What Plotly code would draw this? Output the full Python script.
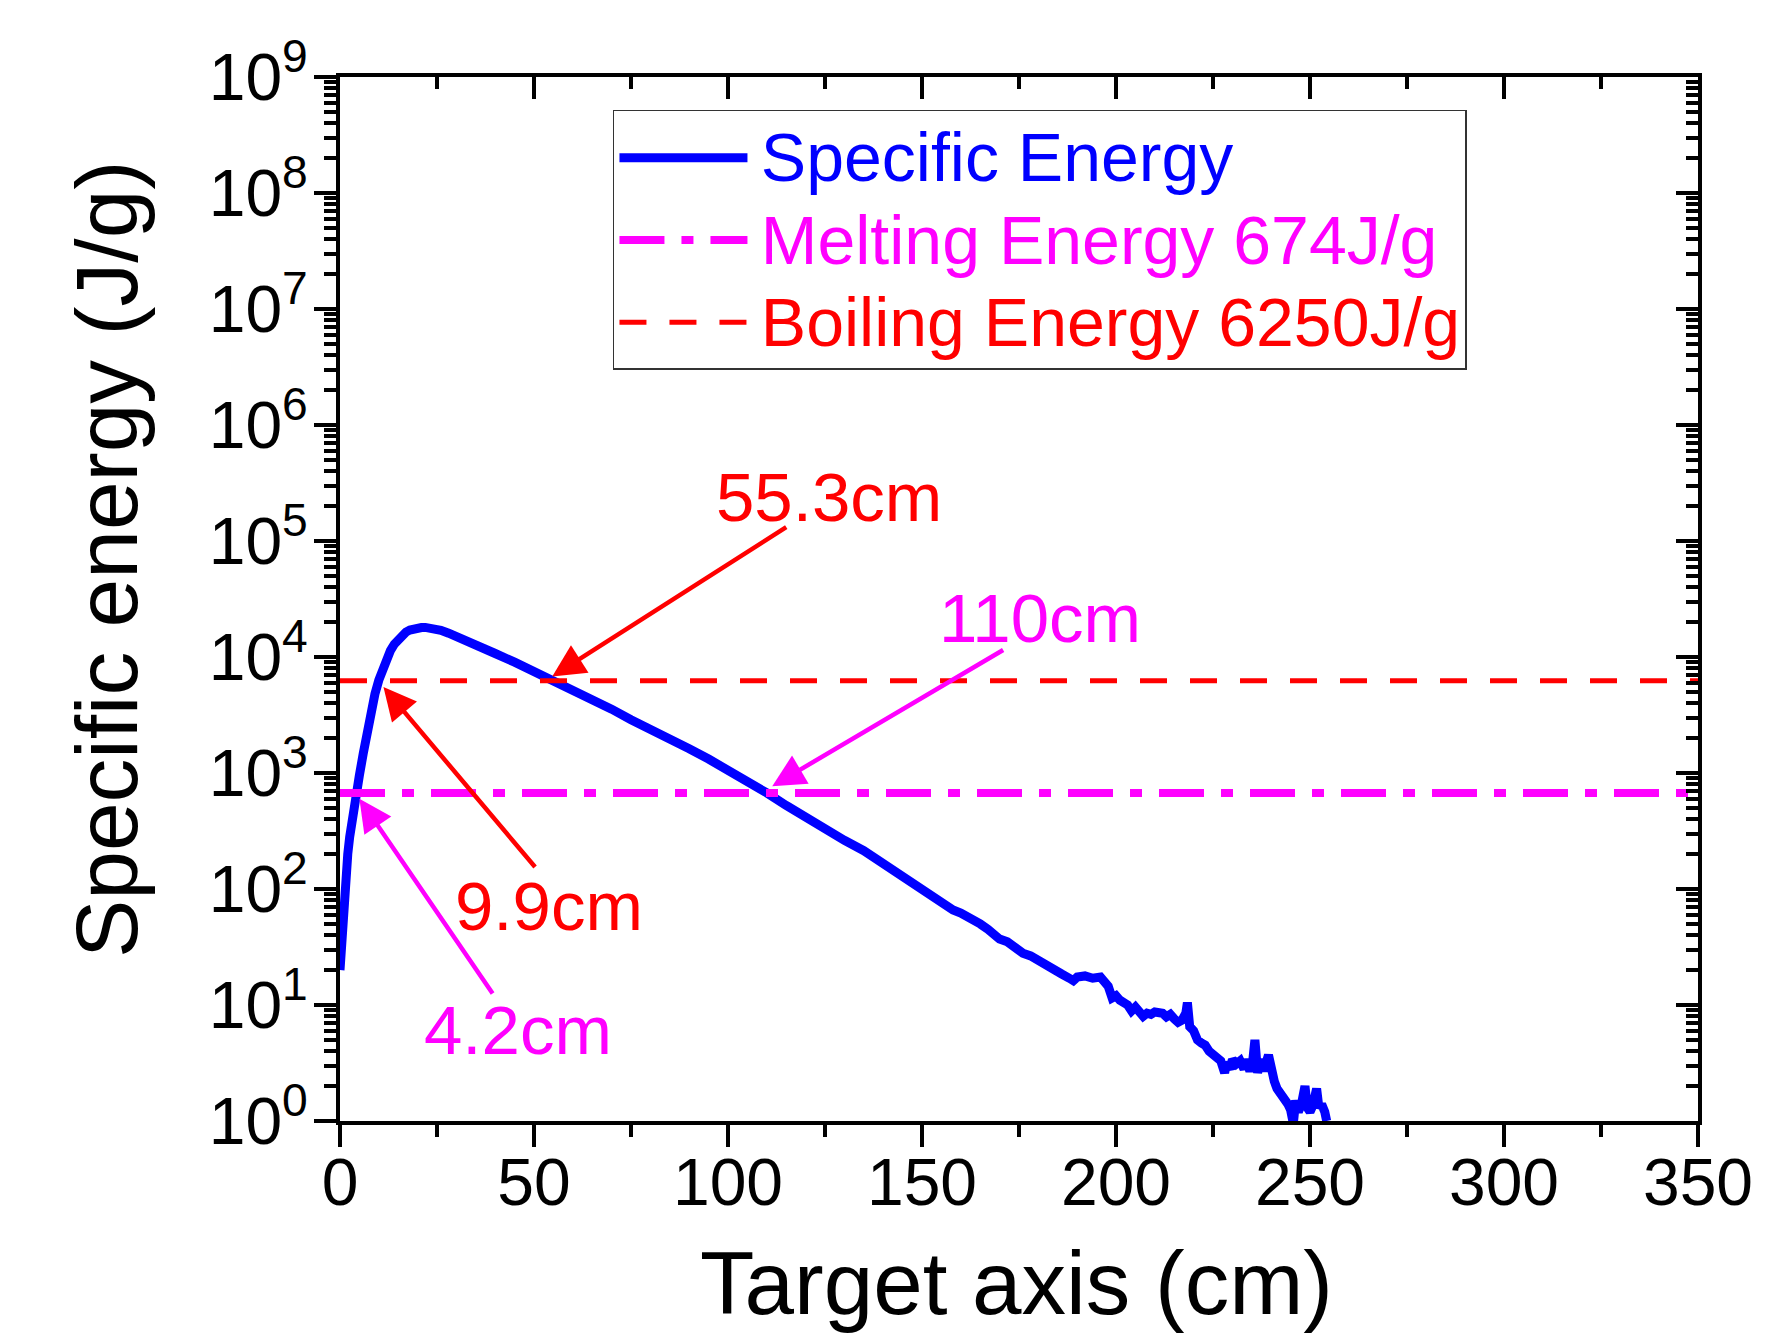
import plotly.graph_objects as go
import math

# ---------------- data ----------------
x_cm = [0, 0.5, 1, 1.5, 2, 2.5, 3, 3.5, 4.2, 5, 6, 7, 8, 9, 10, 11, 12, 13, 14, 15,
        16, 17, 18, 19, 20, 21, 22, 23, 24, 25, 26, 28, 30, 33, 36, 40, 45, 50, 55.3,
        60, 65, 70, 75, 80, 85, 90, 95, 100, 105, 110, 115, 120, 123, 125, 130, 135,
        140, 145, 150, 152, 154, 156, 158, 160, 162, 163, 165, 167, 169, 170, 172, 174,
        176, 178, 180, 182, 184, 185, 186, 188, 189, 190, 192, 194, 195.5, 196, 198,
        199, 200, 201, 203, 204, 205, 206, 207, 208, 209, 210, 212, 213, 214, 215, 216,
        217, 218, 218.4, 219, 220, 221, 222, 223, 224, 225, 226, 227, 228, 228.5, 229.5,
        230, 231, 232, 233, 233.5, 234.5, 235.2, 235.8, 236.5, 237.3, 238, 239.3, 240,
        240.8, 241.5, 242.5, 243.5, 244.3, 245, 245.7, 246.3, 247, 247.8, 248.7, 249.3,
        250, 250.7, 251.7, 252.3, 253, 253.8, 254.3]
energy = [20, 42, 79, 132, 200, 282, 380, 490, 674, 955, 1480, 2400, 3550, 4790, 6310,
          7940, 9660, 11350, 12880, 14290, 15490, 16410, 17060, 17500, 17780, 17950,
          17990, 17910, 17700, 17380, 16980, 16030, 15070, 13650, 12300, 10720, 9020,
          7530, 6250, 5250, 4370, 3550, 2880, 2400, 2000, 1620, 1320, 1070, 851, 674,
          525, 417, 345, 318, 263, 214, 166, 129, 100, 93, 80, 72, 66, 62, 58, 55, 50,
          45, 40, 37, 35, 31, 28, 26.5, 24.5, 22.5, 20.5, 19.5, 18.5, 17.0, 16.2, 17.4,
          17.8, 17.0, 17.8, 17.4, 14.5, 11.5, 12.0, 11.0, 10.0, 8.9, 9.6, 8.7, 8.0, 8.5,
          8.3, 8.7, 8.5, 7.9, 8.3, 7.6, 7.1, 7.4, 8.5, 10.5, 6.5, 6.0, 5.0, 4.7, 4.5,
          4.0, 3.8, 3.6, 3.3, 2.6, 3.2, 2.8, 3.4, 3.1, 3.3, 2.8, 3.4, 2.7, 3.2, 5.0,
          2.6, 3.4, 2.7, 3.7, 2.5, 2.2, 1.9, 1.7, 1.6, 1.4, 1.25, 0.95, 1.5, 1.2, 1.4,
          2.0, 1.3, 1.2, 1.35, 1.9, 1.3, 1.4, 1.2, 1.0]

melting_energy = 674
boiling_energy = 6250
x_line_span = [0, 350]

series_names = ["Specific Energy", "Melting Energy 674J/g", "Boiling Energy 6250J/g"]
series_colors = ["#0000FF", "#FF00FF", "#FF0000"]

x_ticks = [0, 50, 100, 150, 200, 250, 300, 350]
y_exponents = [0, 1, 2, 3, 4, 5, 6, 7, 8, 9]
y_tick_vals = [10 ** k for k in y_exponents]
y_tick_text = ["10<sup>%d</sup>" % k for k in y_exponents]
y_minor_vals = [m * 10 ** k for k in range(0, 9) for m in range(2, 10)]

# annotation labels: text, colour, arrow tip (x, y), arrow tail (x, y), label centre (x, y)
ann_text = ["55.3cm", "110cm", "9.9cm", "4.2cm"]
ann_color = ["#FF0000", "#FF00FF", "#FF0000", "#FF00FF"]
ann_tip_x = [54.7, 111.4, 11.2, 5.0]
ann_tip_y = [6800, 770, 5500, 600]
ann_tail_x = [115.4, 171.3, 50.6, 39.6]
ann_tail_y = [134000, 11700, 150, 12.2]
ann_label_x = [126.0, 180.4, 53.9, 45.9]
ann_label_y = [239000, 21300, 71, 6.0]

FONT = "Liberation Sans, Arial, sans-serif"


def legend_label(i):
    return ("<span style='font-size:30px'> </span>"
            "<span style='color:%s;font-size:68px'>%s</span>" % (series_colors[i], series_names[i]))


fig = go.Figure()

fig.add_trace(go.Scatter(
    x=x_cm, y=energy, mode="lines", name=legend_label(0),
    line=dict(color=series_colors[0], width=9),
))
fig.add_trace(go.Scatter(
    x=x_line_span, y=[melting_energy, melting_energy], mode="lines", name=legend_label(1),
    line=dict(color=series_colors[1], width=8, dash="45px,17px,12px,17px"),
))
fig.add_trace(go.Scatter(
    x=x_line_span, y=[boiling_energy, boiling_energy], mode="lines", name=legend_label(2),
    line=dict(color=series_colors[2], width=5, dash="27px,23px"),
))
# dummy trace for mirrored (top / right) axes
fig.add_trace(go.Scatter(x=[None], y=[None], xaxis="x2", yaxis="y2",
                         showlegend=False, hoverinfo="skip"))

annotations = []
for i in range(len(ann_text)):
    annotations.append(dict(
        x=ann_tip_x[i], y=math.log10(ann_tip_y[i]), xref="x", yref="y",
        ax=ann_tail_x[i], ay=math.log10(ann_tail_y[i]), axref="x", ayref="y",
        text="", showarrow=True, arrowhead=2, arrowsize=1.45, arrowwidth=4.5,
        arrowcolor=ann_color[i], standoff=0, startstandoff=0,
    ))
    annotations.append(dict(
        x=ann_label_x[i], y=math.log10(ann_label_y[i]), xref="x", yref="y",
        text=ann_text[i], showarrow=False,
        font=dict(family=FONT, size=69, color=ann_color[i]),
        xanchor="center", yanchor="middle",
    ))

# axis titles
annotations.append(dict(
    x=-0.171, y=0.538, xref="paper", yref="paper", text="Specific energy (J/g)",
    textangle=-90, showarrow=False, font=dict(family=FONT, size=87.5, color="black"),
    xanchor="center", yanchor="middle",
))
annotations.append(dict(
    x=0.4985, y=-0.155, xref="paper", yref="paper", text="Target axis (cm)",
    showarrow=False, font=dict(family=FONT, size=89, color="black"),
    xanchor="center", yanchor="middle",
))

axis_common = dict(showgrid=False, zeroline=False, showline=True, linewidth=4,
                   linecolor="black", tickcolor="black", tickwidth=3.5)

fig.update_layout(
    width=1770, height=1334,
    margin=dict(l=332, r=80, t=69, b=221),
    paper_bgcolor="white", plot_bgcolor="white",
    font=dict(family=FONT, color="black"),
    xaxis=dict(range=[0, 350], tickvals=x_ticks, ticks="outside", ticklen=22,
               tickfont=dict(size=66), mirror=False, ticklabelstandoff=-21,
               minor=dict(dtick=25, tick0=0, ticks="outside", ticklen=12, tickwidth=3.5,
                          tickcolor="black", showgrid=False),
               **axis_common),
    yaxis=dict(type="log", range=[0, 9], tickvals=y_tick_vals, ticktext=y_tick_text,
               ticks="outside", ticklen=22, tickfont=dict(size=66), mirror=False,
               ticklabelstandoff=-7,
               minor=dict(tickvals=y_minor_vals, ticks="outside", ticklen=12,
                          tickwidth=3.5, tickcolor="black", showgrid=False),
               **axis_common),
    xaxis2=dict(range=[0, 350], overlaying="x", side="top", anchor="y2",
                tickvals=x_ticks, ticks="inside", ticklen=22, showticklabels=False,
                minor=dict(dtick=25, tick0=0, ticks="inside", ticklen=12, tickwidth=3.5,
                           tickcolor="black", showgrid=False),
                **axis_common),
    yaxis2=dict(type="log", range=[0, 9], overlaying="y", side="right", anchor="x2",
                tickvals=y_tick_vals, ticks="inside", ticklen=22, showticklabels=False,
                minor=dict(tickvals=y_minor_vals, ticks="inside", ticklen=12,
                           tickwidth=3.5, tickcolor="black", showgrid=False),
                **axis_common),
    legend=dict(x=0.201, y=0.9684, xanchor="left", yanchor="top",
                bgcolor="white", bordercolor="#333333", borderwidth=1.5,
                font=dict(family=FONT, size=61), itemwidth=128,
                tracegroupgap=0),
    annotations=annotations,
    showlegend=True,
)

fig.write_html("out.html")
